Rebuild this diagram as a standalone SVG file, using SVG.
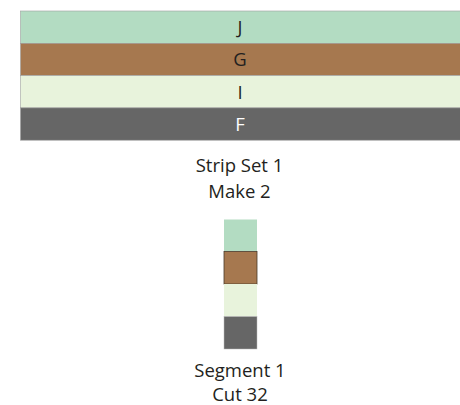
<svg xmlns="http://www.w3.org/2000/svg" width="460" height="405" viewBox="0 0 460 405">
<style>
text{font-family:"Open Sans","Liberation Sans",sans-serif;font-size:18.5px;fill:#231f20;text-anchor:middle}
.j{fill:#b3dcc2}.g{fill:#a6784f}.i{fill:#e8f3dc}.f{fill:#666666}
.s{stroke:#a0a0a0;stroke-width:0.6}
</style>
<rect width="460" height="405" fill="#ffffff"/>
<g id="strip-set-1">
<rect class="j s" x="20.5" y="11" width="445" height="32.3"/>
<rect class="g s" x="20.5" y="43.3" width="445" height="32.3"/>
<rect class="i s" x="20.5" y="75.6" width="445" height="32.3"/>
<rect class="f s" x="20.5" y="107.9" width="445" height="32.3"/>
<text x="240" y="33.5">J</text>
<text x="240" y="66">G</text>
<text x="240" y="98.5">I</text>
<text x="240" y="131" style="fill:#ffffff">F</text>
</g>
<g id="strip-label">
<text x="239.5" y="172">Strip Set 1</text>
<text x="239.5" y="198">Make 2</text>
</g>
<g id="segment-1">
<rect class="j" x="224" y="219.5" width="33" height="32"/>
<rect class="g" x="224" y="251.5" width="33" height="32.5" stroke="#4a3a2a" stroke-width="0.8"/>
<rect class="i" x="224" y="284" width="33" height="32.5"/>
<rect class="f" x="224" y="316.5" width="33" height="32.5" stroke="#bbbbbb" stroke-width="0.5"/>
</g>
<g id="segment-label">
<text x="240" y="377">Segment 1</text>
<text x="240" y="401">Cut 32</text>
</g>
</svg>
